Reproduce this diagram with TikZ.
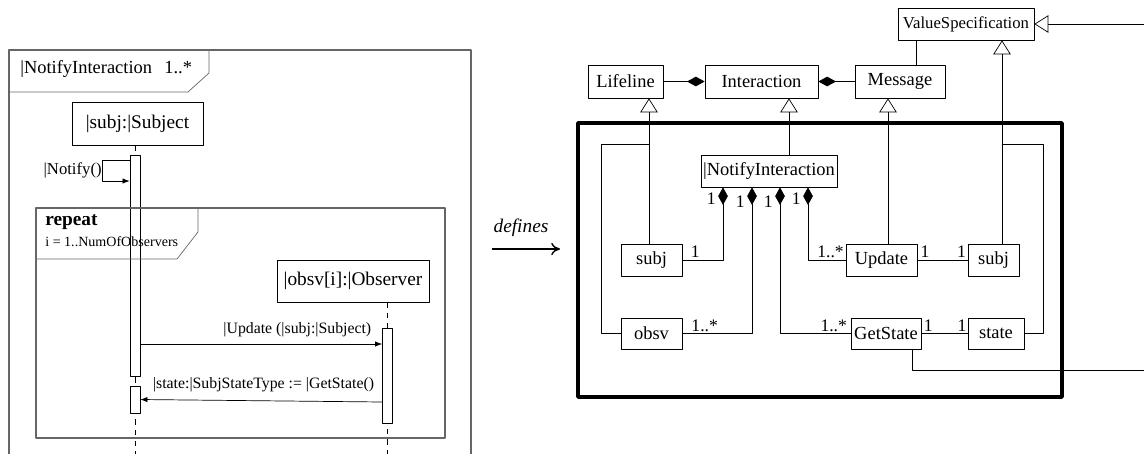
\documentclass[tikz,border=0pt]{standalone}
\usepackage{fontspec}
\setmainfont{Liberation Serif}
\usetikzlibrary{arrows.meta,calc}

\def\px{0.02cm}

\begin{document}
\begin{tikzpicture}[x=0.02cm, y=-0.02cm, line join=bevel,
>={Latex[length=4pt,width=3pt]},
font=\fontsize{10.5}{12}\selectfont,
cls/.style={draw, inner sep=0pt},
lfl/.style={draw, inner sep=0pt, font=\fontsize{11}{13}\selectfont},
bar/.style={draw, fill=white, minimum width=10*\px, inner sep=0pt},
msg/.style={->, font=\fontsize{9}{11}\selectfont},
gen/.style={-{Triangle[open,length=8pt,width=10pt]}},
comp/.style={{Diamond[length=10pt,width=5.5pt]}-},
mult/.style={inner sep=1pt, font=\fontsize{10}{11}\selectfont},
%font = \small
]
\useasboundingbox (0,0) rectangle (1144,454);
\def\framecolor{black!60}

%% sequence diagram
\draw[\framecolor, line width=0.8pt] (9,454) -- (9,50) -- (471,50) -- (471,454);
\draw[\framecolor] (9,92) -- (188,92) -- (209,73) -- (209,50);
\node(fname) at (20,73) [anchor=base west, inner sep=0pt, font=\fontsize{10.5}{12}\selectfont] {|NotifyInteraction\hspace{7pt}1..*};

\node(subj) at (137.5,123.5) [lfl, minimum width=131*\px, minimum height=43*\px] {|subj:|Subject};
\node(obs) at (353,281) [lfl, minimum width=152*\px, minimum height=42*\px] {|obsv[i]:|Observer};
\coordinate(sl) at (135,454); % subject lifeline end
\coordinate(ol) at (387.5,454); % observer lifeline end
\draw[dashed] (sl |- subj.south) -- (sl);
\draw[dashed] (ol |- obs.south) -- (ol);

\node(act1) at (135,265.5) [bar, minimum height=221*\px] {};
\node(act2) at (135,399.5) [bar, minimum height=27*\px] {};
\node(act3) at (387.5,375.5) [bar, minimum height=95*\px] {};

% Notify() self call
\coordinate(ny1) at (0,160);
\coordinate(ny2) at (0,181);
\draw[msg] (act1.west |- ny1) -- ++(-27,0) |- (act1.west |- ny2);
\node(nlab) at (102,170) [anchor=east, inner sep=0pt, font=\fontsize{9.5}{11}\selectfont] {|Notify()};

% repeat fragment
\draw[\framecolor, line width=0.8pt] (36,208) rectangle (445,438);
\draw[\framecolor] (36,259) -- (177,259) -- (198,232) -- (198,208);
\node(rep) at (45,225) [anchor=base west, inner sep=0pt, font=\fontsize{11}{13}\bfseries] {repeat};
\node(rng) at (45,246) [anchor=base west, inner sep=0pt, font=\fontsize{8}{9}\selectfont] {i = 1..NumOfObservers};

\coordinate(uy) at (0,344);
\coordinate(gy) at (0,402);
\draw[msg] (act1.east |- uy) -- (act3.west |- uy) node[pos=1, above left, inner sep=2pt, yshift=2pt, xshift=-4pt] {|Update (|subj:|Subject)};
\draw[msg] (act3.west |- gy) -- (act2.east) node[pos=1, above right, inner sep=2pt, yshift=2pt, xshift=5pt] {|state:|SubjStateType := |GetState()};

%% defines
\node(def) at (521,228) [font=\fontsize{11}{13}\itshape] {defines};
\coordinate(da) at (492,249);
\coordinate(db) at (560,249);
\draw[-{To[length=5pt,width=7pt]}, line width=0.8pt] (da) -- (db);

%% metamodel
\node(vspec) at (966,24) [cls, minimum width=136*\px, minimum height=32*\px, font=\fontsize{9.5}{11}\selectfont] {ValueSpecification};
\node(lifeline) at (625.5,81.5) [cls, minimum width=75*\px, minimum height=33*\px] {Lifeline};
\node(interaction) at (761.5,81.5) [cls, minimum width=113*\px, minimum height=33*\px] {Interaction};
\node(message) at (900,81.5) [cls, minimum width=90*\px, minimum height=33*\px] {Message};

\draw[line width=2pt] (578,123) rectangle (1062,397);

\node(notify) at (769,171) [cls, minimum width=136*\px, minimum height=32*\px] {|NotifyInteraction};
\node(subja) at (651.5,260) [cls, minimum width=61*\px, minimum height=32*\px] {subj};
\node(obsv) at (651.5,333.5) [cls, minimum width=61*\px, minimum height=31*\px] {obsv};
\node(update) at (881.5,260) [cls, minimum width=71*\px, minimum height=32*\px] {Update};
\node(getstate) at (886,333.5) [cls, minimum width=70*\px, minimum height=31*\px] {GetState};
\node(subjb) at (993.5,260) [cls, minimum width=51*\px, minimum height=32*\px] {subj};
\node(state) at (996,333.5) [cls, minimum width=56*\px, minimum height=31*\px] {state};

\coordinate(br) at (0,144); % branch height
\coordinate(rt) at (1150,24);
\coordinate(rb) at (1150,370);

\draw[comp] (interaction.west) -- (lifeline.east);
\draw[comp] (interaction.east) -- (message.west);
\draw ([xshift=16*\px]message.north) -- ([xshift=16*\px]message.north |- vspec.south);
\draw[gen] (rt) -- (vspec.east);

\draw[gen] ([xshift=-2.5*\px]subja.north) -- ([xshift=-2.5*\px]subja.north |- lifeline.south);
\draw (obsv.west) -- ++(-19,0) |- ([xshift=-2.5*\px]subja.north |- br);
\draw[gen] ([xshift=20*\px]notify.north) -- ([xshift=20*\px]notify.north |- interaction.south);
\draw[gen] ([xshift=6.5*\px]update.north) -- ([xshift=6.5*\px]update.north |- message.south);
\draw[gen] ([xshift=8.5*\px]subjb.north) -- ([xshift=8.5*\px]subjb.north |- vspec.south);
\draw (state.east) -- ++(19,0) |- ([xshift=8.5*\px]subjb.north |- br);
\draw ([xshift=26*\px]getstate.south) |- (rb);

\draw[comp] ([xshift=-46*\px]notify.south) |- (subja.east)
  node[mult, pos=0.08, left=3pt] {1} node[mult, pos=0.84, above] {1};
\draw[comp] ([xshift=-17*\px]notify.south) |- (obsv.east)
  node[mult, pos=0.05, left=3pt] {1} node[mult, pos=0.84, above] {1..*};
\draw[comp] ([xshift=11*\px]notify.south) |- (getstate.west)
  node[mult, pos=0.05, left=3pt] {1} node[mult, pos=0.88, above] {1..*};
\draw[comp] ([xshift=39*\px]notify.south) |- (update.west)
  node[mult, pos=0.08, left=3pt] {1} node[mult, pos=0.8, above] {1..*};

\draw (update.east) -- (subjb.west)
  node[mult, pos=0.15, above] {1} node[mult, pos=0.88, above] {1};
\draw (getstate.east) -- (state.west)
  node[mult, pos=0.15, above] {1} node[mult, pos=0.88, above] {1};
\end{tikzpicture}
\end{document}
